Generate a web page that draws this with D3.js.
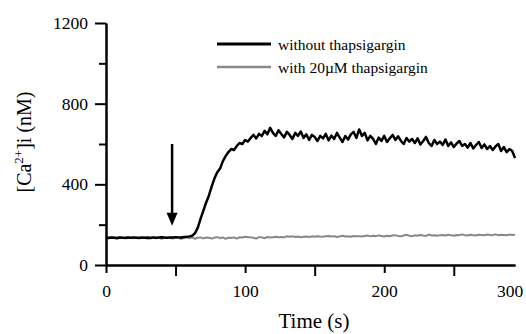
<!DOCTYPE html>
<html>
<head>
<meta charset="utf-8">
<script src="https://cdn.jsdelivr.net/npm/d3@7"></script>
<style>
  body { margin: 0; background: #fff; }
</style>
</head>
<body>
<div class="chart"></div>
<script>
var width = 526;
var height = 334;

// sampling every 2 s, 0..294 s
var times = d3.range(0, 296, 2);

var withoutTg = [
  135,134,136,135,133,136,135,134,136,135,137,135,134,136,135,136,134,137,135,136,138,
  136,135,137,136,138,137,136,139,140,142,
  145,158,185,230,270,310,345,390,430,460,
  478,515,540,560,575,570,590,605,600,620,
  612,630,645,628,650,640,665,648,680,655,
  640,668,650,632,660,645,625,655,640,662,
  630,648,620,645,635,615,640,628,650,618,
  642,625,655,632,610,640,622,648,660,630,
  672,640,655,618,640,625,600,632,615,640,
  610,628,645,620,638,615,600,630,612,625,
  605,628,598,615,635,605,590,620,600,612,
  595,622,590,608,585,602,615,590,600,582,
  605,578,595,610,580,598,575,590,570,588,
  600,565,585,560,575,565,530
];

var withTg = [
  137,136,138,135,137,136,134,137,136,135,133,136,137,134,135,130,135,136,133,137,130,135,136,134,131,136,135,130,134,137,133,
  136,130,135,137,132,136,135,131,136,138,133,137,130,136,134,137,131,138,136,140,138,137,135,131,138,137,133,139,136,138,
  140,138,139,137,143,140,142,139,141,138,140,141,139,142,140,143,141,140,142,144,141,143,139,142,145,141,143,140,144,142,
  143,141,144,146,142,145,143,147,144,141,145,143,146,148,144,142,146,150,145,143,147,145,149,146,144,151,146,148,145,147,
  149,146,150,147,145,149,148,152,147,146,150,148,146,150,149,147,151,149,148,152,148,150,149,147,151,149,150
];

var seriesNames = ['without thapsigargin', 'with 20\u00b5M thapsigargin'];
var seriesColors = ['#000', '#888'];
var seriesWidths = [2.5, 2];

var xMajor = [0, 100, 200];
var xMinor = [50, 150, 250];
var yMajor = [0, 400, 800, 1200];
var yMinor = [200, 600, 1000];

// arrow: time (s), from / to value (nM)
var arrowTime = 47.5;
var arrowFrom = 600;
var arrowTo = 195;

var serif = "Tinos, 'Nimbus Roman', 'Nimbus Roman No9 L', FreeSerif, 'Noto Serif', 'Liberation Serif', serif";

var x = d3.scaleLinear().domain([0, 294]).range([106, 515]);
var y = d3.scaleLinear().domain([0, 1200]).range([265, 23]);

var svg = d3.select('.chart').append('svg')
  .attr('width', width)
  .attr('height', height)
  .attr('font-family', serif);

var line = d3.line()
  .x((d, i) => x(times[i]))
  .y(d => y(d));

// traces (gray first so black sits on top)
svg.append('path')
  .datum(withTg)
  .attr('fill', 'none')
  .attr('stroke', seriesColors[1])
  .attr('stroke-width', seriesWidths[1])
  .attr('stroke-linejoin', 'round')
  .attr('d', line);

svg.append('path')
  .datum(withoutTg)
  .attr('fill', 'none')
  .attr('stroke', seriesColors[0])
  .attr('stroke-width', seriesWidths[0])
  .attr('stroke-linejoin', 'round')
  .attr('d', line);

// axes
function styleAxis(g) {
  g.attr('font-family', serif).attr('font-size', 17.5);
  g.selectAll('path, line').attr('stroke', '#000').attr('stroke-width', 2);
  g.selectAll('text').attr('fill', '#000');
}

svg.append('g')
  .attr('transform', `translate(0,${y(0)})`)
  .call(d3.axisBottom(x).tickValues(xMinor).tickSize(11).tickSizeOuter(0).tickFormat(''))
  .call(styleAxis);

svg.append('g')
  .attr('transform', `translate(0,${y(0)})`)
  .call(d3.axisBottom(x).tickValues(xMajor).tickSize(8).tickPadding(12).tickSizeOuter(0).tickFormat(d3.format('d')))
  .call(styleAxis);

// last label sits at 300 s, right-aligned
svg.append('text')
  .attr('x', x(300))
  .attr('y', y(0) + 20)
  .attr('dy', '0.71em')
  .attr('text-anchor', 'end')
  .attr('font-size', 17.5)
  .text('300');

svg.append('g')
  .attr('transform', `translate(${x(0)},0)`)
  .call(d3.axisLeft(y).tickValues(yMinor).tickSize(7).tickSizeOuter(0).tickFormat(''))
  .call(styleAxis);

svg.append('g')
  .attr('transform', `translate(${x(0)},0)`)
  .call(d3.axisLeft(y).tickValues(yMajor).tickSize(11).tickPadding(7).tickSizeOuter(0).tickFormat(d3.format('d')))
  .call(styleAxis);

// axis titles
svg.append('text')
  .attr('x', 314)
  .attr('y', 328)
  .attr('text-anchor', 'middle')
  .attr('font-size', 21)
  .text('Time (s)');

var yTitle = svg.append('text')
  .attr('transform', 'translate(31,142) rotate(-90)')
  .attr('text-anchor', 'middle')
  .attr('font-size', 20);
yTitle.append('tspan').text('[Ca');
yTitle.append('tspan').attr('font-size', 13).attr('dy', -8).text('2+');
yTitle.append('tspan').attr('dy', 8).text(']i (nM)');

// stimulus arrow
svg.append('line')
  .attr('x1', x(arrowTime))
  .attr('x2', x(arrowTime))
  .attr('y1', y(arrowFrom))
  .attr('y2', y(arrowTo) - 10)
  .attr('stroke', '#000')
  .attr('stroke-width', 2.5);

svg.append('path')
  .attr('d', `M${x(arrowTime) - 5.5},${y(arrowTo) - 13} L${x(arrowTime) + 5.5},${y(arrowTo) - 13} L${x(arrowTime)},${y(arrowTo)} Z`)
  .attr('fill', '#000');

// legend
var legend = svg.selectAll('.legend')
  .data(seriesNames)
  .enter().append('g')
  .attr('class', 'legend')
  .attr('transform', (d, i) => `translate(217,${44 + i * 23})`);

legend.append('line')
  .attr('x1', 0)
  .attr('x2', 54)
  .attr('stroke', (d, i) => seriesColors[i])
  .attr('stroke-width', (d, i) => seriesWidths[i] + 0.5);

legend.append('text')
  .attr('x', 61)
  .attr('y', 6)
  .attr('font-size', 15.5)
  .text(d => d);
</script>
</body>
</html>
